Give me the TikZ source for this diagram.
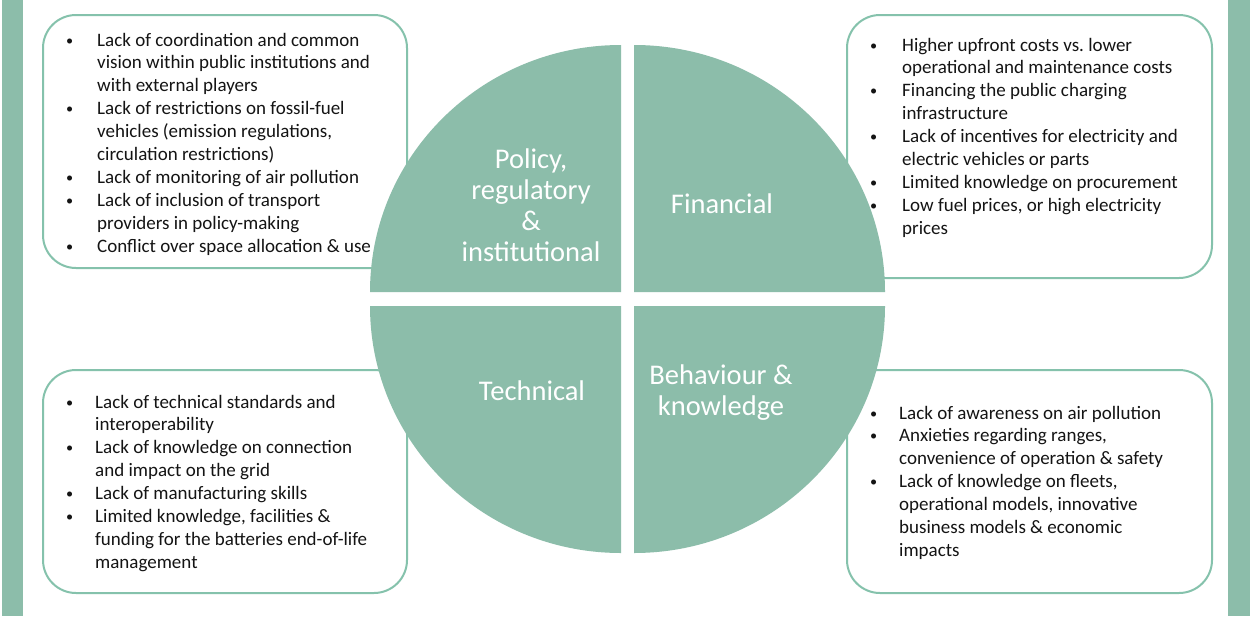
\documentclass[tikz,border=0pt]{standalone}
\usepackage{fontspec}
\setmainfont{Carlito}
\frenchspacing
\definecolor{qgreen}{RGB}{140,189,170}
\definecolor{bgreen}{RGB}{133,194,172}
\definecolor{txt}{RGB}{20,20,20}
\newcommand{\bt}[1]{\makebox[#1pt][l]{\raisebox{1pt}{\scalebox{0.75}{•}}}}
\begin{document}
\begin{tikzpicture}[x=1pt,y=-1pt,
 box/.style={draw=bgreen, line width=2pt, rounded corners=33pt, fill=white},
 list/.style={anchor=base west, inner sep=0pt, text=txt, font=\fontsize{19}{22.9}\selectfont},
 quad/.style={fill=qgreen},
 qlabel/.style={text=white, align=center, font=\fontsize{28.5}{31}\selectfont, inner sep=0pt}]
\useasboundingbox (0,0) rectangle (1250,616);
\fill[white] (0,0) rectangle (1250,616);
\fill[qgreen] (1.5,0) rectangle (23,616);
\fill[qgreen] (1228,0) rectangle (1250,616);

% boxes
\node[box, minimum width=364pt, minimum height=253pt] (tlbox) at (225,141.5) {};
\node[box, minimum width=365pt, minimum height=263pt] (trbox) at (1029.5,146.5) {};
\node[box, minimum width=364pt, minimum height=223pt] (blbox) at (225,481.5) {};
\node[box, minimum width=365pt, minimum height=223pt] (brbox) at (1029.5,481.5) {};

% quadrants
\fill[quad] (621,292) -- ++(-251,0) arc[start angle=180,end angle=270,x radius=251,y radius=247] -- cycle;
\fill[quad] (634,292) -- ++(0,-247) arc[start angle=270,end angle=360,x radius=251,y radius=247] -- cycle;
\fill[quad] (634,306) -- ++(251,0) arc[start angle=0,end angle=90,x radius=251,y radius=247] -- cycle;
\fill[quad] (621,306) -- ++(0,247) arc[start angle=90,end angle=180,x radius=251,y radius=247] -- cycle;

% lists
\node[list] (tllist) at (66,46) {\begin{tabular}[t]{@{}l@{}l@{}}
\bt{31} & Lack of coordination and common\\
 & vision within public institutions and\\
 & with external players\\
\bt{31} & Lack of restrictions on fossil-fuel\\
 & vehicles (emission regulations,\\
 & circulation restrictions)\\
\bt{31} & Lack of monitoring of air pollution\\
\bt{31} & Lack of inclusion of transport\\
 & providers in policy-making\\
\bt{31} & Conflict over space allocation \& use
\end{tabular}};

\node[list] (trlist) at (870,51) {\begin{tabular}[t]{@{}l@{}l@{}}
\bt{32} & Higher upfront costs vs. lower\\
 & operational and maintenance costs\\
\bt{32} & Financing the public charging\\
 & infrastructure\\
\bt{32} & Lack of incentives for electricity and\\
 & electric vehicles or parts\\
\bt{32} & Limited knowledge on procurement\\
\bt{32} & Low fuel prices, or high electricity\\
 & prices
\end{tabular}};

\node[list] (bllist) at (66,408) {\begin{tabular}[t]{@{}l@{}l@{}}
\bt{29} & Lack of technical standards and\\
 & interoperability\\
\bt{29} & Lack of knowledge on connection\\
 & and impact on the grid\\
\bt{29} & Lack of manufacturing skills\\
\bt{29} & Limited knowledge, facilities \&\\
 & funding for the batteries end-of-life\\
 & management
\end{tabular}};

\node[list] (brlist) at (870,419) {\begin{tabular}[t]{@{}l@{}l@{}}
\bt{29} & Lack of awareness on air pollution\\
\bt{29} & Anxieties regarding ranges,\\
 & convenience of operation \& safety\\
\bt{29} & Lack of knowledge on fleets,\\
 & operational models, innovative\\
 & business models \& economic\\
 & impacts
\end{tabular}};

% quadrant labels
\node[qlabel] (policy) at (531,205) {Policy,\\regulatory\\\&\\institutional};
\node[qlabel] (financial) at (722,204) {Financial};
\node[qlabel] (technical) at (532,391) {Technical};
\node[qlabel] (behaviour) at (721,393) {Behaviour \&\\knowledge};
\end{tikzpicture}
\end{document}
